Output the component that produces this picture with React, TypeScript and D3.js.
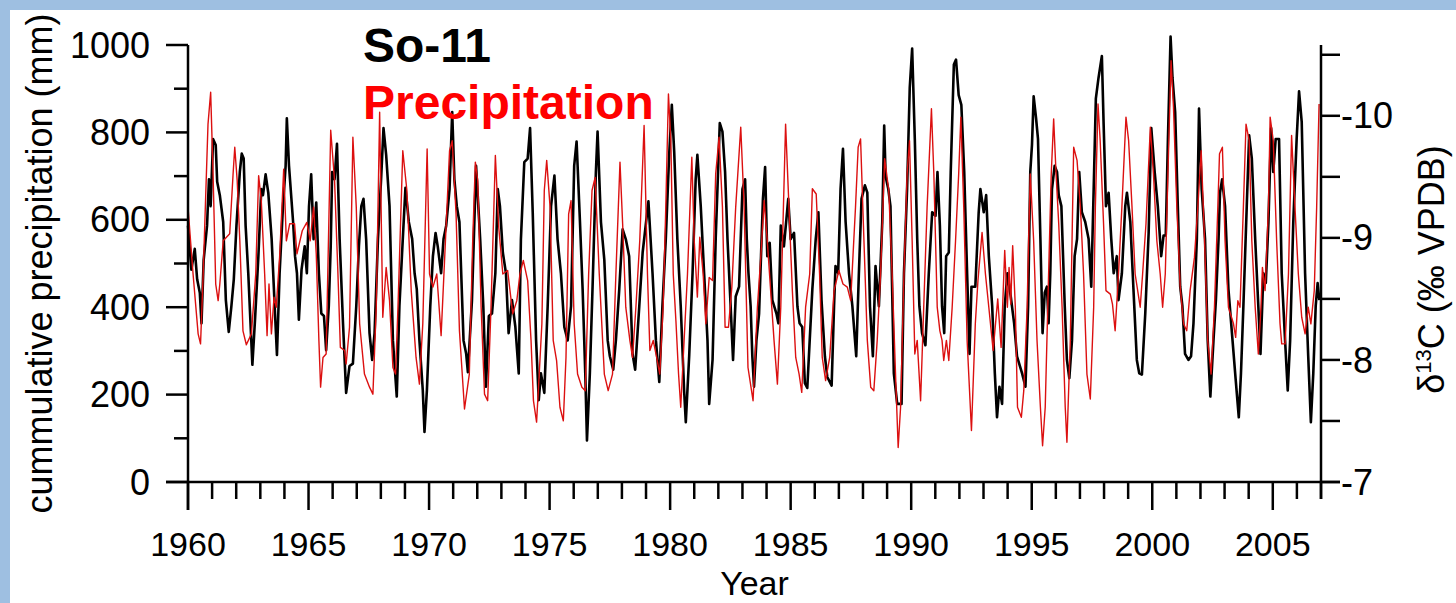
import * as d3 from "d3";

// So-11 δ13C record, [year, ‰ VPDB]
const so11: [number, number][] = [
  [1960.0, -9.1], [1960.14, -8.74], [1960.28, -8.91], [1960.38, -8.66], [1960.49, -8.55], [1960.56, -8.3],
  [1960.65, -8.82], [1960.79, -9.1], [1960.87, -9.48], [1960.94, -9.26], [1961.04, -9.81], [1961.15, -9.76],
  [1961.21, -9.46], [1961.32, -9.35], [1961.46, -9.13], [1961.57, -8.49], [1961.69, -8.23], [1961.8, -8.44],
  [1961.9, -8.66], [1962.01, -9.1], [1962.15, -9.54], [1962.23, -9.69], [1962.31, -9.65], [1962.39, -9.1],
  [1962.5, -8.71], [1962.67, -7.96], [1962.78, -8.33], [1962.92, -8.85], [1963.04, -9.4], [1963.11, -9.35],
  [1963.22, -9.52], [1963.33, -9.37], [1963.47, -8.99], [1963.61, -8.38], [1963.69, -8.04], [1963.8, -8.71],
  [1963.94, -9.26], [1964.05, -9.59], [1964.1, -9.98], [1964.19, -9.59], [1964.36, -9.13], [1964.44, -8.85],
  [1964.52, -8.71], [1964.6, -8.33], [1964.71, -8.74], [1964.84, -8.93], [1964.93, -8.71], [1965.02, -9.26],
  [1965.11, -9.52], [1965.21, -8.99], [1965.32, -9.29], [1965.43, -8.71], [1965.53, -8.38], [1965.64, -8.36],
  [1965.73, -8.08], [1965.84, -8.44], [1965.92, -8.93], [1965.98, -9.54], [1966.08, -9.48], [1966.18, -9.77],
  [1966.29, -8.99], [1966.43, -8.3], [1966.56, -7.73], [1966.7, -7.95], [1966.84, -7.97], [1966.98, -8.44],
  [1967.09, -8.93], [1967.19, -9.26], [1967.28, -9.32], [1967.39, -8.99], [1967.53, -8.22], [1967.64, -8.0],
  [1967.74, -8.22], [1967.88, -8.99], [1968.01, -9.48], [1968.11, -9.9], [1968.22, -9.68], [1968.36, -9.26],
  [1968.5, -8.16], [1968.66, -7.7], [1968.77, -8.44], [1968.91, -8.99], [1969.02, -9.41], [1969.16, -9.13],
  [1969.3, -8.99], [1969.4, -8.71], [1969.49, -8.58], [1969.6, -8.16], [1969.74, -7.75], [1969.81, -7.41],
  [1969.91, -7.75], [1970.05, -8.44], [1970.16, -8.85], [1970.27, -9.04], [1970.36, -8.93], [1970.5, -8.71],
  [1970.6, -8.99], [1970.71, -9.1], [1970.85, -9.4], [1970.96, -10.03], [1971.05, -9.48], [1971.15, -9.26],
  [1971.26, -9.13], [1971.43, -8.16], [1971.54, -8.05], [1971.61, -7.9], [1971.78, -8.49], [1971.95, -9.59],
  [1972.12, -8.99], [1972.25, -8.44], [1972.36, -7.78], [1972.48, -8.36], [1972.61, -8.38], [1972.75, -8.71],
  [1972.85, -9.4], [1972.94, -9.26], [1973.06, -8.88], [1973.19, -8.71], [1973.3, -8.22], [1973.44, -8.49],
  [1973.58, -8.27], [1973.72, -7.89], [1973.81, -8.99], [1973.95, -9.62], [1974.09, -9.65], [1974.19, -9.9],
  [1974.3, -9.21], [1974.44, -8.16], [1974.55, -7.67], [1974.64, -7.89], [1974.78, -7.73], [1974.92, -8.44],
  [1975.06, -9.26], [1975.2, -9.51], [1975.33, -8.99], [1975.47, -8.71], [1975.61, -8.27], [1975.75, -8.16],
  [1975.89, -8.44], [1976.02, -9.59], [1976.12, -9.79], [1976.26, -9.13], [1976.37, -8.58], [1976.48, -7.89],
  [1976.55, -7.34], [1976.67, -7.89], [1976.78, -8.58], [1976.92, -9.54], [1976.99, -9.87], [1977.13, -9.13],
  [1977.27, -8.82], [1977.41, -8.16], [1977.5, -8.03], [1977.64, -7.92], [1977.75, -8.16], [1977.89, -8.58],
  [1978.03, -9.07], [1978.16, -8.99], [1978.3, -8.85], [1978.44, -8.05], [1978.55, -7.92], [1978.72, -8.44],
  [1978.86, -8.88], [1979.1, -9.3], [1979.27, -8.71], [1979.41, -8.16], [1979.55, -7.82], [1979.68, -8.44],
  [1979.82, -8.99], [1979.96, -9.68], [1980.07, -10.09], [1980.17, -9.7], [1980.3, -8.99], [1980.44, -8.44],
  [1980.58, -7.75], [1980.65, -7.49], [1980.79, -8.03], [1980.93, -8.71], [1981.06, -9.48], [1981.13, -9.68],
  [1981.27, -9.26], [1981.41, -8.71], [1981.55, -8.16], [1981.62, -7.64], [1981.76, -8.0], [1981.89, -8.99],
  [1982.06, -9.94], [1982.17, -9.87], [1982.28, -9.54], [1982.38, -8.99], [1982.51, -8.44], [1982.61, -8.0],
  [1982.72, -8.52], [1982.86, -8.6], [1983.0, -9.4], [1983.11, -9.48], [1983.18, -8.99], [1983.25, -8.71],
  [1983.34, -8.44], [1983.41, -8.03], [1983.48, -7.78], [1983.58, -8.16], [1983.69, -8.38], [1983.77, -8.85],
  [1983.85, -9.32], [1983.94, -9.58], [1984.03, -8.85], [1984.13, -8.96], [1984.24, -8.49], [1984.41, -8.38],
  [1984.49, -8.3], [1984.59, -9.1], [1984.72, -8.93], [1984.9, -9.32], [1985.0, -8.99], [1985.14, -9.04],
  [1985.28, -8.44], [1985.37, -8.3], [1985.48, -8.27], [1985.59, -7.81], [1985.69, -7.77], [1985.79, -8.16],
  [1985.9, -8.58], [1986.04, -8.99], [1986.15, -9.21], [1986.28, -8.49], [1986.42, -8.03], [1986.52, -7.86],
  [1986.7, -7.79], [1986.8, -8.44], [1986.86, -8.77], [1986.97, -8.71], [1987.07, -9.4], [1987.17, -9.73],
  [1987.28, -9.13], [1987.42, -8.71], [1987.56, -8.44], [1987.72, -8.03], [1987.83, -8.71], [1987.94, -9.32],
  [1988.08, -9.43], [1988.18, -9.37], [1988.29, -8.44], [1988.41, -8.03], [1988.52, -8.77], [1988.66, -8.44],
  [1988.8, -9.13], [1988.88, -9.92], [1988.94, -9.5], [1989.05, -9.4], [1989.14, -9.26], [1989.28, -7.89],
  [1989.42, -7.64], [1989.6, -7.64], [1989.7, -8.71], [1989.83, -9.4], [1989.94, -10.23], [1990.04, -10.55],
  [1990.15, -9.81], [1990.25, -8.99], [1990.34, -8.44], [1990.45, -8.22], [1990.59, -8.12], [1990.73, -8.71],
  [1990.87, -9.21], [1991.01, -9.18], [1991.09, -9.54], [1991.19, -9.1], [1991.28, -8.44], [1991.37, -8.22],
  [1991.45, -8.85], [1991.56, -8.88], [1991.64, -9.54], [1991.77, -10.42], [1991.86, -10.46], [1991.97, -10.17],
  [1992.08, -10.09], [1992.2, -9.54], [1992.32, -8.71], [1992.42, -8.05], [1992.5, -8.6], [1992.66, -8.6],
  [1992.8, -9.21], [1992.87, -9.4], [1993.01, -9.21], [1993.11, -9.35], [1993.22, -8.85], [1993.36, -8.44],
  [1993.47, -7.89], [1993.56, -7.53], [1993.66, -7.78], [1993.77, -7.64], [1993.88, -8.44], [1993.99, -8.71],
  [1994.13, -8.52], [1994.27, -8.3], [1994.39, -8.03], [1994.6, -7.89], [1994.74, -7.78], [1994.85, -8.44],
  [1994.94, -9.54], [1995.01, -9.76], [1995.08, -10.16], [1995.18, -9.98], [1995.26, -9.81], [1995.36, -8.99],
  [1995.45, -8.22], [1995.54, -8.55], [1995.63, -8.6], [1995.7, -8.3], [1995.77, -8.71], [1995.84, -9.4],
  [1995.95, -9.59], [1996.05, -9.54], [1996.12, -9.35], [1996.23, -9.26], [1996.37, -8.44], [1996.46, -8.0],
  [1996.56, -7.85], [1996.67, -8.16], [1996.78, -8.85], [1996.88, -8.99], [1996.97, -9.54], [1997.08, -9.21],
  [1997.22, -9.13], [1997.36, -8.99], [1997.47, -8.6], [1997.57, -9.4], [1997.66, -10.14], [1997.77, -10.31],
  [1997.91, -10.49], [1997.98, -9.95], [1998.08, -9.26], [1998.19, -9.37], [1998.3, -8.99], [1998.4, -8.71],
  [1998.53, -8.85], [1998.6, -8.49], [1998.74, -8.71], [1998.88, -9.26], [1998.95, -9.37], [1999.09, -9.13],
  [1999.22, -8.58], [1999.36, -8.0], [1999.46, -7.89], [1999.57, -7.88], [1999.71, -8.38], [1999.85, -9.04],
  [1999.96, -9.9], [2000.1, -9.54], [2000.23, -9.26], [2000.37, -8.85], [2000.47, -9.02], [2000.56, -9.02],
  [2000.65, -9.81], [2000.76, -10.65], [2000.84, -10.31], [2000.95, -10.03], [2001.06, -9.26], [2001.16, -8.6],
  [2001.25, -8.44], [2001.36, -8.05], [2001.5, -8.0], [2001.61, -8.03], [2001.71, -8.3], [2001.85, -8.99],
  [2001.94, -10.06], [2002.05, -9.4], [2002.19, -8.99], [2002.3, -8.16], [2002.41, -7.7], [2002.54, -8.16],
  [2002.64, -8.49], [2002.75, -8.99], [2002.81, -9.37], [2002.9, -9.48], [2003.02, -9.26], [2003.16, -8.58],
  [2003.33, -8.16], [2003.46, -7.84], [2003.59, -7.53], [2003.68, -7.89], [2003.78, -8.44], [2003.92, -9.26],
  [2004.02, -9.84], [2004.13, -9.65], [2004.27, -8.99], [2004.4, -8.44], [2004.49, -8.05], [2004.61, -8.71],
  [2004.71, -8.63], [2004.82, -9.13], [2004.93, -9.9], [2005.02, -9.54], [2005.12, -9.81], [2005.26, -9.81],
  [2005.37, -8.71], [2005.51, -8.16], [2005.62, -7.75], [2005.72, -8.16], [2005.85, -9.13], [2005.99, -9.81],
  [2006.09, -10.2], [2006.2, -9.95], [2006.34, -8.71], [2006.47, -8.03], [2006.58, -7.49], [2006.68, -7.89],
  [2006.78, -8.44], [2006.86, -8.63], [2006.93, -8.49],
];

// cumulative precipitation, [year, mm]
const precipitation: [number, number][] = [
  [1960.0, 629], [1960.21, 476], [1960.42, 339], [1960.52, 316], [1960.63, 476], [1960.83, 819], [1960.94, 892],
  [1961.04, 705], [1961.15, 453], [1961.25, 415], [1961.32, 453], [1961.46, 552], [1961.73, 568], [1961.87, 705],
  [1961.94, 766], [1962.04, 690], [1962.15, 552], [1962.28, 346], [1962.42, 314], [1962.63, 339], [1962.81, 476],
  [1962.93, 701], [1963.04, 644], [1963.18, 476], [1963.28, 335], [1963.36, 453], [1963.46, 339], [1963.57, 423],
  [1963.66, 400], [1963.8, 514], [1963.97, 716], [1964.08, 552], [1964.22, 591], [1964.42, 591], [1964.52, 522],
  [1964.74, 575], [1964.93, 594], [1965.07, 552], [1965.21, 629], [1965.32, 522], [1965.43, 324], [1965.5, 217],
  [1965.6, 285], [1965.73, 293], [1965.92, 805], [1966.08, 690], [1966.22, 476], [1966.32, 308], [1966.5, 301],
  [1966.56, 270], [1966.7, 354], [1966.84, 789], [1966.98, 629], [1967.12, 362], [1967.32, 247], [1967.53, 217],
  [1967.67, 201], [1967.81, 400], [1967.95, 846], [1968.08, 377], [1968.22, 491], [1968.36, 415], [1968.5, 262],
  [1968.61, 247], [1968.71, 400], [1968.91, 758], [1969.08, 667], [1969.26, 438], [1969.46, 285], [1969.6, 224],
  [1969.74, 362], [1969.92, 762], [1970.02, 476], [1970.16, 446], [1970.32, 476], [1970.5, 335], [1970.68, 552],
  [1970.85, 758], [1970.96, 781], [1971.12, 613], [1971.26, 346], [1971.47, 167], [1971.67, 247], [1971.81, 552],
  [1971.92, 732], [1972.02, 690], [1972.16, 400], [1972.3, 201], [1972.43, 186], [1972.57, 400], [1972.75, 747],
  [1972.89, 583], [1973.06, 476], [1973.26, 484], [1973.47, 385], [1973.64, 415], [1973.77, 476], [1973.91, 507],
  [1974.09, 461], [1974.23, 324], [1974.33, 186], [1974.46, 137], [1974.57, 247], [1974.68, 362], [1974.78, 667],
  [1974.88, 736], [1975.02, 629], [1975.15, 324], [1975.29, 278], [1975.43, 171], [1975.57, 140], [1975.68, 285],
  [1975.79, 613], [1975.89, 644], [1976.02, 362], [1976.16, 247], [1976.34, 217], [1976.48, 209], [1976.62, 476],
  [1976.76, 667], [1976.89, 697], [1977.06, 476], [1977.27, 247], [1977.43, 209], [1977.61, 247], [1977.75, 476],
  [1977.92, 732], [1978.03, 591], [1978.16, 400], [1978.33, 324], [1978.44, 285], [1978.58, 400], [1978.74, 552],
  [1978.92, 816], [1979.06, 476], [1979.16, 301], [1979.3, 324], [1979.44, 285], [1979.57, 247], [1979.71, 400],
  [1979.82, 629], [1979.93, 888], [1980.03, 781], [1980.13, 476], [1980.24, 369], [1980.35, 247], [1980.44, 171],
  [1980.58, 324], [1980.72, 476], [1980.9, 743], [1981.0, 552], [1981.13, 423], [1981.23, 560], [1981.37, 476],
  [1981.48, 362], [1981.62, 468], [1981.76, 461], [1981.89, 705], [1982.03, 789], [1982.17, 629], [1982.28, 354],
  [1982.42, 354], [1982.56, 446], [1982.72, 629], [1982.93, 812], [1983.07, 629], [1983.23, 262], [1983.44, 186],
  [1983.62, 400], [1983.76, 514], [1983.9, 644], [1984.03, 552], [1984.17, 438], [1984.31, 324], [1984.45, 224],
  [1984.59, 400], [1984.7, 629], [1984.79, 819], [1984.93, 629], [1985.07, 438], [1985.21, 285], [1985.35, 247],
  [1985.46, 205], [1985.62, 400], [1985.79, 476], [1985.9, 671], [1986.06, 659], [1986.2, 476], [1986.31, 285],
  [1986.45, 232], [1986.62, 285], [1986.8, 438], [1987.0, 484], [1987.17, 453], [1987.35, 446], [1987.49, 415],
  [1987.69, 629], [1987.8, 766], [1987.9, 785], [1988.04, 552], [1988.18, 324], [1988.32, 217], [1988.45, 209],
  [1988.59, 324], [1988.73, 476], [1988.9, 740], [1989.07, 667], [1989.21, 476], [1989.35, 247], [1989.46, 79],
  [1989.56, 171], [1989.7, 476], [1989.83, 705], [1989.93, 781], [1990.04, 552], [1990.15, 293], [1990.25, 324],
  [1990.39, 186], [1990.52, 400], [1990.66, 629], [1990.84, 854], [1990.94, 705], [1991.08, 400], [1991.19, 346],
  [1991.28, 324], [1991.35, 278], [1991.46, 324], [1991.56, 278], [1991.7, 400], [1991.84, 552], [1991.97, 705],
  [1992.06, 835], [1992.18, 629], [1992.32, 324], [1992.5, 118], [1992.66, 362], [1992.77, 461], [1992.94, 571],
  [1993.08, 476], [1993.22, 400], [1993.4, 301], [1993.59, 419], [1993.73, 308], [1993.88, 530], [1993.99, 400],
  [1994.06, 491], [1994.13, 407], [1994.21, 541], [1994.32, 400], [1994.41, 171], [1994.57, 148], [1994.67, 209],
  [1994.81, 400], [1994.87, 552], [1994.94, 705], [1995.08, 552], [1995.22, 324], [1995.36, 171], [1995.45, 83],
  [1995.56, 171], [1995.7, 476], [1995.81, 705], [1995.91, 831], [1996.01, 705], [1996.12, 591], [1996.26, 400],
  [1996.39, 171], [1996.46, 91], [1996.6, 324], [1996.74, 766], [1996.88, 736], [1997.02, 629], [1997.15, 476],
  [1997.29, 247], [1997.43, 190], [1997.57, 400], [1997.64, 629], [1997.75, 865], [1997.84, 781], [1997.98, 591],
  [1998.08, 438], [1998.26, 430], [1998.35, 407], [1998.46, 346], [1998.6, 476], [1998.74, 629], [1998.91, 835],
  [1999.02, 781], [1999.16, 629], [1999.29, 476], [1999.5, 400], [1999.6, 476], [1999.74, 591], [1999.92, 812],
  [2000.05, 705], [2000.19, 552], [2000.33, 476], [2000.43, 400], [2000.54, 476], [2000.65, 705], [2000.78, 964],
  [2000.88, 858], [2001.02, 629], [2001.16, 446], [2001.3, 362], [2001.43, 346], [2001.57, 438], [2001.75, 514],
  [2001.89, 629], [2002.03, 758], [2002.17, 552], [2002.3, 324], [2002.44, 247], [2002.58, 400], [2002.72, 629],
  [2002.79, 751], [2002.91, 766], [2003.02, 552], [2003.16, 400], [2003.37, 362], [2003.46, 331], [2003.55, 415],
  [2003.64, 400], [2003.78, 629], [2003.89, 819], [2004.02, 781], [2004.13, 552], [2004.27, 400], [2004.4, 293],
  [2004.51, 400], [2004.57, 491], [2004.68, 438], [2004.82, 629], [2004.89, 835], [2005.02, 781], [2005.16, 552],
  [2005.3, 362], [2005.37, 316], [2005.51, 316], [2005.65, 476], [2005.78, 793], [2005.92, 629], [2006.06, 476],
  [2006.2, 377], [2006.34, 339], [2006.47, 400], [2006.58, 362], [2006.72, 438], [2006.82, 629], [2006.92, 865],
];

const yearLabels = [1960, 1965, 1970, 1975, 1980, 1985, 1990, 1995, 2000, 2005];
const precipLabels = [0, 200, 400, 600, 800, 1000];
const d13cLabels = [-7, -8, -9, -10];

const font = "'Liberation Sans', Arial, sans-serif";

export default function App() {
  const width = 1456;
  const height = 603;
  const left = 188;
  const right = 1321;
  const top = 45;
  const bottom = 482;

  const x = d3.scaleLinear().domain([1960, 2007]).range([left, right]);
  const yP = d3.scaleLinear().domain([0, 1000]).range([bottom, top]);
  const yC = d3.scaleLinear().domain([-7, -10.58]).range([bottom, top]);

  const precipLine = d3
    .line<[number, number]>()
    .x((d) => x(d[0]))
    .y((d) => yP(d[1]));
  const carbonLine = d3
    .line<[number, number]>()
    .x((d) => x(d[0]))
    .y((d) => yC(d[1]));

  const years = d3.range(1960, 2008);
  const precipTicks = d3.range(0, 1001, 100);
  const carbonTicks = d3.range(-7, -10.51, -0.5);

  return (
    <div style={{ position: "absolute", left: 0, top: 0 }}>
      <svg width={width} height={height} viewBox={`0 0 ${width} ${height}`} style={{ display: "block" }}>
        <rect width={width} height={height} fill="#9ebfe1" />
        <rect x={10} y={10} width={width - 10} height={height - 10} fill="#fff" />

        <path d={carbonLine(so11) ?? ""} fill="none" stroke="#000" strokeWidth={2.6} strokeLinejoin="round" />
        <path d={precipLine(precipitation) ?? ""} fill="none" stroke="#dc1010" strokeWidth={1.4} strokeLinejoin="round" />

        {/* axes */}
        <g stroke="#000" strokeWidth={2.5} fill="none">
          <line x1={left} x2={left} y1={top} y2={bottom + 28} />
          <line x1={right} x2={right} y1={top} y2={bottom + 17} />
          <line x1={left - 22} x2={right + 19} y1={bottom} y2={bottom} />
          {precipTicks.map((t) => (
            <line key={t} x1={left - (t % 200 === 0 ? 22 : 14)} x2={left} y1={yP(t)} y2={yP(t)} />
          ))}
          {carbonTicks.map((t) => (
            <line key={t} x1={right} x2={right + 19} y1={yC(t)} y2={yC(t)} />
          ))}
          {years.map((yr) => (
            <line key={yr} x1={x(yr)} x2={x(yr)} y1={bottom} y2={bottom + (yr % 5 === 0 ? 28 : 17)} />
          ))}
        </g>

        <g fontFamily={font} fontSize={36} fill="#000">
          {precipLabels.map((t) => (
            <text key={t} x={150} y={yP(t)} dy="0.35em" textAnchor="end">
              {t}
            </text>
          ))}
          {d13cLabels.map((t) => (
            <text key={t} x={1341} y={yC(t)} dy="0.35em">
              {t}
            </text>
          ))}
          {yearLabels.map((yr) => (
            <text key={yr} x={x(yr)} y={556} fontSize={34} textAnchor="middle">
              {yr}
            </text>
          ))}
          <text x={(left + right) / 2} y={595} fontSize={34} textAnchor="middle">
            Year
          </text>
          <text transform={`translate(52, ${(top + bottom) / 2}) rotate(-90)`} textAnchor="middle">
            cummulative precipitation (mm)
          </text>
          <text transform={`translate(1444, ${(top + bottom) / 2 + 6}) rotate(-90)`} textAnchor="middle">
            δ<tspan fontSize={22} dy={-13}>13</tspan>
            <tspan dy={13}>C (‰ VPDB)</tspan>
          </text>
        </g>

        <g fontFamily={font} fontWeight="bold" fontSize={48}>
          <text x={363} y={62} fill="#000">
            So-11
          </text>
          <text x={363} y={119} fill="#ff0000">
            Precipitation
          </text>
        </g>
      </svg>
    </div>
  );
}
